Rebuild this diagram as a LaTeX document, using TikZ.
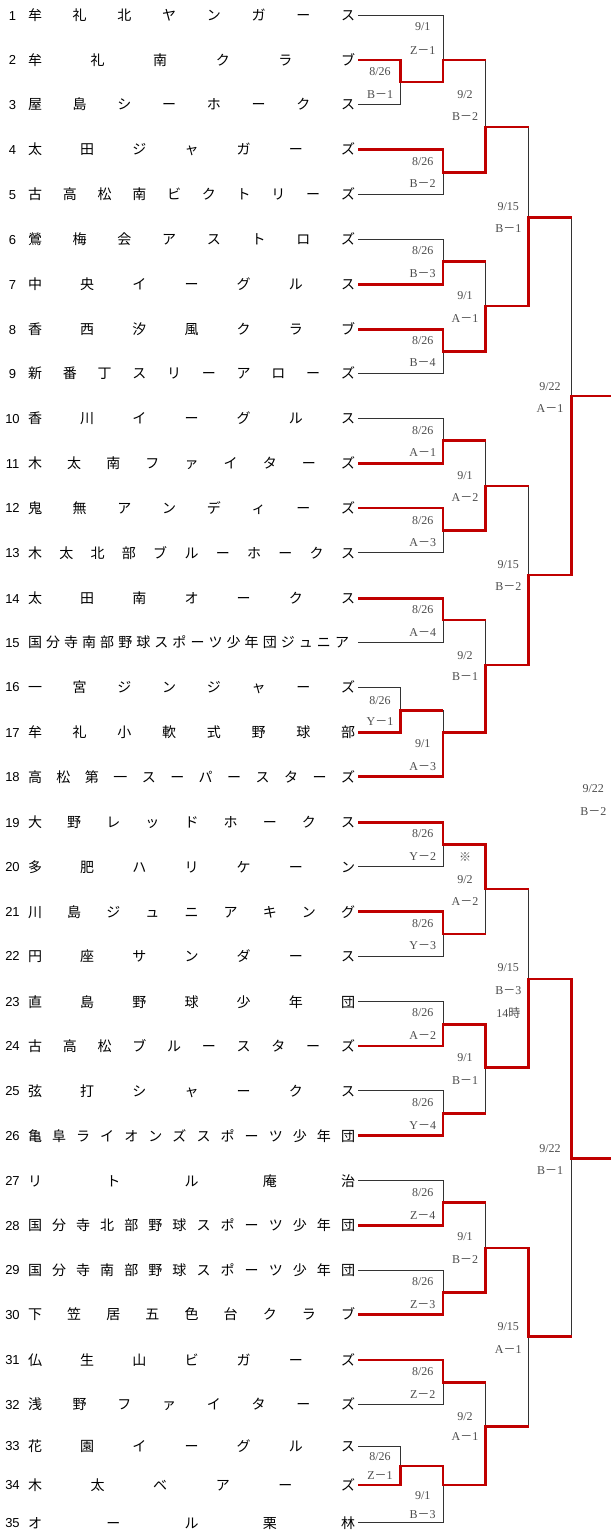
\documentclass[tikz,border=0pt]{standalone}
\usepackage{fontspec}
\setmainfont{Liberation Serif}
\newfontfamily\jpfont{Noto Sans CJK JP}
\newfontfamily\numfont{Liberation Sans}
\definecolor{winred}{RGB}{192,0,0}
\newcommand\fw{{\jpfont －}}
\newcommand\team[4][348]{%
	\node[num] (n#2) at (12.5,#3+4.7) {#2};
	\foreach \kk [count=\i] in {#4} {\xdef\nch{\i}}
	\foreach \kk [count=\i] in {#4} {\node[kana] (n#2-\i) at ({35+(\i-1)*(#1-35)/(\nch-1)},#3+5.3) {\kk};}
	\coordinate (e#2) at (358,#3);
}
\newcommand\info[7]{%
	\node[lbl] (#1-d) at (#2,#3+4) {#5};
	\node[lbl] (#1-c) at (#2,#4+4) {#6\fw#7};
}

\begin{document}
\begin{tikzpicture}[x=1pt,y=-1pt,
	kana/.style={font=\jpfont\fontsize{14}{14}\selectfont,inner sep=0pt,anchor=base},
	num/.style={font=\numfont\fontsize{13}{13}\selectfont,inner sep=0pt,anchor=base},
	lbl/.style={font=\fontsize{12}{12}\selectfont,text=black!70,inner sep=0pt,anchor=base},
	lose/.style={draw=black!80,line width=0.8pt},
	win/.style={draw=winred,line width=2.6pt}]
	\useasboundingbox (0,0) rectangle (611,1531);

	\team{1}{15.3}{牟,礼,北,ヤ,ン,ガ,ー,ス}
	\team{2}{60}{牟,礼,南,ク,ラ,ブ}
	\team{3}{104.3}{屋,島,シ,ー,ホ,ー,ク,ス}
	\team{4}{149.3}{太,田,ジ,ャ,ガ,ー,ズ}
	\team{5}{194.3}{古,高,松,南,ビ,ク,ト,リ,ー,ズ}
	\team{6}{239.3}{鶯,梅,会,ア,ス,ト,ロ,ズ}
	\team{7}{284.3}{中,央,イ,ー,グ,ル,ス}
	\team{8}{329.3}{香,西,汐,風,ク,ラ,ブ}
	\team{9}{373.5}{新,番,丁,ス,リ,ー,ア,ロ,ー,ズ}
	\team{10}{418.3}{香,川,イ,ー,グ,ル,ス}
	\team{11}{463.3}{木,太,南,フ,ァ,イ,タ,ー,ズ}
	\team{12}{508}{鬼,無,ア,ン,デ,ィ,ー,ズ}
	\team{13}{552.7}{木,太,北,部,ブ,ル,ー,ホ,ー,ク,ス}
	\team{14}{598.3}{太,田,南,オ,ー,ク,ス}
	\team[342]{15}{642.3}{国,分,寺,南,部,野,球,ス,ポ,ー,ツ,少,年,団,ジ,ュ,ニ,ア}
	\team{16}{687}{一,宮,ジ,ン,ジ,ャ,ー,ズ}
	\team{17}{732.3}{牟,礼,小,軟,式,野,球,部}
	\team{18}{776.7}{高,松,第,一,ス,ー,パ,ー,ス,タ,ー,ズ}
	\team{19}{822.3}{大,野,レ,ッ,ド,ホ,ー,ク,ス}
	\team{20}{866.7}{多,肥,ハ,リ,ケ,ー,ン}
	\team{21}{911.7}{川,島,ジ,ュ,ニ,ア,キ,ン,グ}
	\team{22}{956}{円,座,サ,ン,ダ,ー,ス}
	\team{23}{1001.7}{直,島,野,球,少,年,団}
	\team{24}{1046}{古,高,松,ブ,ル,ー,ス,タ,ー,ズ}
	\team{25}{1090.7}{弦,打,シ,ャ,ー,ク,ス}
	\team{26}{1135.7}{亀,阜,ラ,イ,オ,ン,ズ,ス,ポ,ー,ツ,少,年,団}
	\team{27}{1180.7}{リ,ト,ル,庵,治}
	\team{28}{1225.3}{国,分,寺,北,部,野,球,ス,ポ,ー,ツ,少,年,団}
	\team{29}{1270}{国,分,寺,南,部,野,球,ス,ポ,ー,ツ,少,年,団}
	\team{30}{1314.3}{下,笠,居,五,色,台,ク,ラ,ブ}
	\team{31}{1360}{仏,生,山,ビ,ガ,ー,ズ}
	\team{32}{1404.3}{浅,野,フ,ァ,イ,タ,ー,ズ}
	\team{33}{1446}{花,園,イ,ー,グ,ル,ス}
	\team{34}{1485}{木,太,ベ,ア,ー,ズ}
	\team{35}{1522.7}{オ,ー,ル,栗,林}

	\coordinate (pa) at (400.7,82);
	\coordinate (r1a) at (443,60);
	\coordinate (r1b) at (443,172.7);
	\coordinate (r2a) at (485.7,127);
	\coordinate (r1c) at (443,261.7);
	\coordinate (r1d) at (443,351.3);
	\coordinate (r2b) at (485.7,306);
	\coordinate (q1) at (528.7,217.3);
	\coordinate (r1e) at (443,440.7);
	\coordinate (r1f) at (443,530.7);
	\coordinate (r2c) at (485.7,486);
	\coordinate (r1g) at (443,620);
	\coordinate (pb) at (400.7,710.3);
	\coordinate (r1h) at (443,732.3);
	\coordinate (r2d) at (485.7,665);
	\coordinate (q2) at (528.7,575);
	\coordinate (s1) at (571.7,396);
	\coordinate (r1i) at (443,844.7);
	\coordinate (r1j) at (443,934);
	\coordinate (r2e) at (485.7,889);
	\coordinate (r1k) at (443,1024.3);
	\coordinate (r1l) at (443,1113.3);
	\coordinate (r2f) at (485.7,1067.7);
	\coordinate (q3) at (528.7,979);
	\coordinate (r1m) at (443,1202.7);
	\coordinate (r1n) at (443,1292.7);
	\coordinate (r2g) at (485.7,1248);
	\coordinate (r1o) at (443,1382.3);
	\coordinate (pc) at (400.7,1466);
	\coordinate (r1p) at (443,1485);
	\coordinate (r2h) at (485.7,1426.7);
	\coordinate (q4) at (528.7,1336.7);
	\coordinate (s2) at (571.7,1158.3);
	\coordinate (fin) at (611,788);

	\foreach \a/\b in {e1/r1a,e2/pa,e3/pa,pa/r1a,e4/r1b,e5/r1b,r1a/r2a,r1b/r2a,
		e6/r1c,e7/r1c,e8/r1d,e9/r1d,r1c/r2b,r1d/r2b,r2a/q1,r2b/q1,q1/s1,
		e10/r1e,e11/r1e,e12/r1f,e13/r1f,r1e/r2c,r1f/r2c,e14/r1g,e15/r1g,
		e16/pb,e17/pb,pb/r1h,e18/r1h,r1g/r2d,r1h/r2d,r2c/q2,r2d/q2,q2/s1,
		e19/r1i,e20/r1i,e21/r1j,e22/r1j,r1i/r2e,r1j/r2e,e23/r1k,e24/r1k,
		e25/r1l,e26/r1l,r1k/r2f,r1l/r2f,r2e/q3,r2f/q3,e27/r1m,e28/r1m,
		e29/r1n,e30/r1n,r1m/r2g,r1n/r2g,e31/r1o,e32/r1o,e33/pc,e34/pc,
		pc/r1p,e35/r1p,r1o/r2h,r1p/r2h,r2g/q4,r2h/q4,q3/s2,q4/s2}
		\draw[lose] (\a) -| (\b);

	\draw[win] (e2) -| (pa) -| (r1a) -- (r1a -| r2a);
	\draw[win] (e4) -| (r1b) -| (r2a) -- (r2a -| q1);
	\draw[win] (e7) -| (r1c) -- (r1c -| r2b);
	\draw[win] (e8) -| (r1d) -| (r2b) -| (q1) -- (q1 -| s1);
	\draw[win] (e11) -| (r1e) -- (r1e -| r2c);
	\draw[win] (e12) -| (r1f) -| (r2c) -- (r2c -| q2);
	\draw[win] (e14) -| (r1g) -- (r1g -| r2d);
	\draw[win] (e17) -| (pb) -- (pb -| r1h);
	\draw[win] (e18) -| (r1h) -| (r2d) -| (q2) -| (s1) -- (s1 -| fin);
	\draw[win] (e19) -| (r1i) -| (r2e) -- (r2e -| q3);
	\draw[win] (e21) -| (r1j) -- (r1j -| r2e);
	\draw[win] (e24) -| (r1k) -| (r2f) -| (q3) -| (s2) -- (s2 -| fin);
	\draw[win] (e26) -| (r1l) -- (r1l -| r2f);
	\draw[win] (e28) -| (r1m) -- (r1m -| r2g);
	\draw[win] (e30) -| (r1n) -| (r2g) -| (q4) -- (q4 -| s2);
	\draw[win] (e31) -| (r1o) -- (r1o -| r2h);
	\draw[win] (e34) -| (pc) -| (r1p) -| (r2h) -- (r2h -| q4);

	\info{pa}{380}{71.7}{94}{8/26}{B}{1}
	\info{r1a}{422.7}{26.7}{50}{9/1}{Z}{1}
	\info{r1b}{422.7}{161.7}{183.3}{8/26}{B}{2}
	\info{r2a}{465}{94}{116.7}{9/2}{B}{2}
	\info{q1}{508.3}{206.7}{228.7}{9/15}{B}{1}
	\info{r1c}{422.7}{250.7}{273.3}{8/26}{B}{3}
	\info{r2b}{465}{295.3}{318.7}{9/1}{A}{1}
	\info{r1d}{422.7}{340}{362.7}{8/26}{B}{4}
	\info{s1}{550}{386}{408.3}{9/22}{A}{1}
	\info{r1e}{422.7}{430.7}{452.7}{8/26}{A}{1}
	\info{r2c}{465}{475}{497.3}{9/1}{A}{2}
	\info{r1f}{422.7}{520}{542.3}{8/26}{A}{3}
	\info{q2}{508.3}{564.3}{586.7}{9/15}{B}{2}
	\info{r1g}{422.7}{609.3}{632.3}{8/26}{A}{4}
	\info{r2d}{465}{655}{676.7}{9/2}{B}{1}
	\info{pb}{380}{700}{721.7}{8/26}{Y}{1}
	\info{r1h}{422.7}{743.3}{766.7}{9/1}{A}{3}
	\info{fin}{593.3}{788.3}{811.3}{9/22}{B}{2}
	\info{r1i}{422.7}{833.3}{856}{8/26}{Y}{2}
	\info{r2e}{465}{879}{901}{9/2}{A}{2}
	\info{r1j}{422.7}{923.3}{945.7}{8/26}{Y}{3}
	\info{q3}{508.3}{967.7}{990.7}{9/15}{B}{3}
	\info{r1k}{422.7}{1012.7}{1035.7}{8/26}{A}{2}
	\info{r2f}{465}{1057.7}{1080}{9/1}{B}{1}
	\info{r1l}{422.7}{1102.7}{1125}{8/26}{Y}{4}
	\info{s2}{550}{1148.3}{1170}{9/22}{B}{1}
	\info{r1m}{422.7}{1192.7}{1215}{8/26}{Z}{4}
	\info{r2g}{465}{1236.7}{1259.3}{9/1}{B}{2}
	\info{r1n}{422.7}{1281.7}{1304.3}{8/26}{Z}{3}
	\info{q4}{508.3}{1326.7}{1349}{9/15}{A}{1}
	\info{r1o}{422.7}{1371.7}{1394}{8/26}{Z}{2}
	\info{r2h}{465}{1416.7}{1436.7}{9/2}{A}{1}
	\info{pc}{380}{1456}{1475}{8/26}{Z}{1}
	\info{r1p}{422.7}{1495}{1514}{9/1}{B}{3}
	\node[lbl] (note) at (465,861) {\jpfont ※};
	\node[lbl] (time) at (508.3,1017.3) {14\jpfont 時};
\end{tikzpicture}
\end{document}
